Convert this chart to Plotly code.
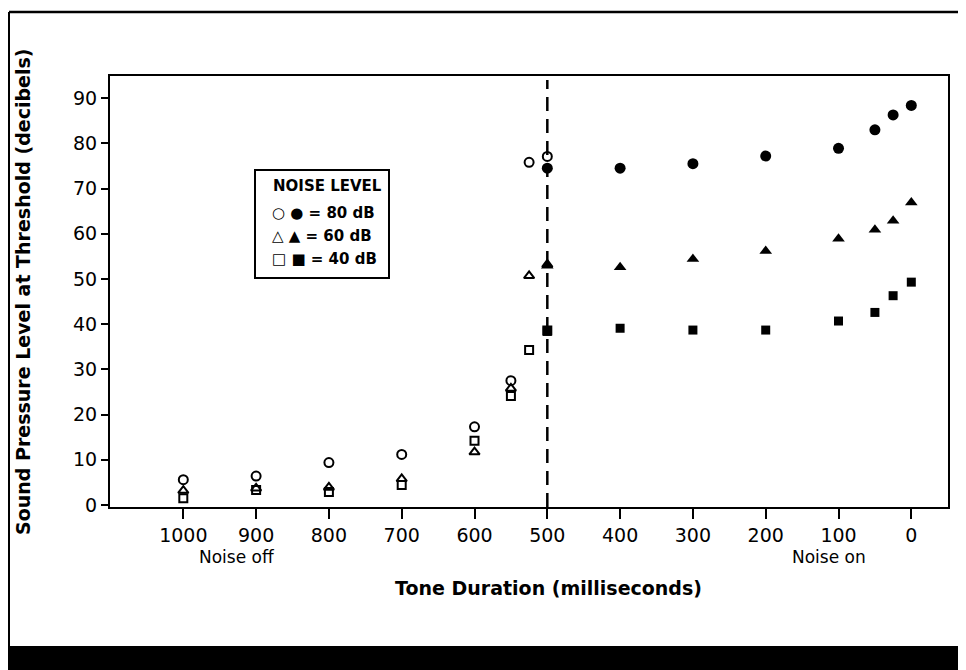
import plotly.graph_objects as go

# ---------------- data ----------------
off_dur = [1000, 900, 800, 700, 600, 550, 525, 500]
off_80 = [5.6, 6.4, 9.4, 11.2, 17.3, 27.5, 75.8, 77.1]
off_60 = [3.2, 3.7, 3.9, 5.8, 11.7, 25.8, 50.7, 53.2]
off_40 = [1.5, 3.3, 2.9, 4.4, 14.2, 24.1, 34.3, 38.6]

on_dur = [500, 400, 300, 200, 100, 50, 25, 0]
on_80 = [74.5, 74.5, 75.5, 77.2, 78.9, 83.0, 86.3, 88.4]
on_60 = [52.9, 52.6, 54.4, 56.2, 58.9, 60.9, 62.9, 66.9]
on_40 = [38.4, 39.1, 38.7, 38.7, 40.7, 42.6, 46.3, 49.3]

x_ticks = [1000, 900, 800, 700, 600, 500, 400, 300, 200, 100, 0]
y_ticks = [0, 10, 20, 30, 40, 50, 60, 70, 80, 90]

legend_title = "NOISE LEVEL"
legend_rows = ["○ ● = 80 dB", "△ ▲ = 60 dB", "□ ■ = 40 dB"]

# ---------------- layout geometry (page pixels) ----------------
PAGE_W, PAGE_H = 966, 670
OFF = 8  # default body margin of the html page
WIDTH, HEIGHT = PAGE_W - OFF, PAGE_H - OFF
L, R, T, B = 110, 948, 76, 507
PW, PH = R - L, B - T


def px(x):
    return (x - L) / PW


def py(y):
    return (B - y) / PH


NUM = "DejaVu Sans"

fig = go.Figure()

open_specs = [
    (off_80, "circle-open", 9),
    (off_60, "triangle-up-open", 9),
    (off_40, "square-open", 8),
]
for vals, sym, size in open_specs:
    fig.add_trace(go.Scatter(
        x=off_dur, y=vals, mode="markers",
        marker=dict(symbol=sym, size=size, color="black",
                    line=dict(color="black", width=2)),
        showlegend=False, hoverinfo="x+y"))

filled_specs = [
    (on_80, "circle", 11),
    (on_60, "triangle-up", 11),
    (on_40, "square", 9),
]
for vals, sym, size in filled_specs:
    fig.add_trace(go.Scatter(
        x=on_dur, y=vals, mode="markers",
        marker=dict(symbol=sym, size=size, color="black",
                    line=dict(color="black", width=0)),
        showlegend=False, hoverinfo="x+y"))

shapes = [
    # dashed boundary at 500 ms
    dict(type="line", xref="x", yref="paper", x0=500, x1=500, y0=0, y1=py(80),
         line=dict(color="black", width=2.5, dash="14px,8px")),
    # outer figure frame
    dict(type="line", xref="paper", yref="paper", x0=px(9), x1=px(966),
         y0=py(12), y1=py(12), line=dict(color="black", width=2.5)),
    dict(type="line", xref="paper", yref="paper", x0=px(9), x1=px(9),
         y0=py(12), y1=py(646), line=dict(color="black", width=2)),
    dict(type="rect", xref="paper", yref="paper", x0=px(0), x1=px(970),
         y0=py(646), y1=py(675), fillcolor="black", line=dict(width=0)),
    # legend box
    dict(type="rect", xref="paper", yref="paper", x0=px(255), x1=px(389),
         y0=py(170), y1=py(278), fillcolor="white",
         line=dict(color="black", width=2), layer="below"),
]

annotations = [
    dict(text="<b>Sound Pressure Level at Threshold (decibels)</b>",
         xref="paper", yref="paper", x=px(23), y=py(292), textangle=-90,
         showarrow=False, font=dict(family=NUM, size=19, color="black"),
         xanchor="center", yanchor="middle"),
    dict(text="<b>Tone Duration (milliseconds)</b>",
         xref="paper", yref="paper", x=px(548), y=py(588),
         showarrow=False, font=dict(family=NUM, size=19, color="black"),
         xanchor="center", yanchor="middle"),
    dict(text="Noise off", xref="paper", yref="paper", x=px(237), y=py(557),
         showarrow=False, font=dict(family=NUM, size=17, color="black"),
         xanchor="center", yanchor="middle"),
    dict(text="Noise on", xref="paper", yref="paper", x=px(829), y=py(557),
         showarrow=False, font=dict(family=NUM, size=17, color="black"),
         xanchor="center", yanchor="middle"),
    dict(text="<b>" + legend_title + "</b>", xref="paper", yref="paper",
         x=px(327), y=py(186), showarrow=False,
         font=dict(family=NUM, size=15, color="black"),
         xanchor="center", yanchor="middle"),
]
row_y = [213, 236, 259]
for text, yy in zip(legend_rows, row_y):
    annotations.append(dict(
        text="<b>" + text + "</b>", xref="paper", yref="paper",
        x=px(270), y=py(yy), showarrow=False,
        font=dict(family=NUM, size=15, color="black"),
        xanchor="left", yanchor="middle"))

fig.update_layout(
    width=WIDTH, height=HEIGHT,
    margin=dict(l=L - OFF, r=PAGE_W - R, t=T - OFF, b=PAGE_H - B, pad=0),
    paper_bgcolor="white", plot_bgcolor="white",
    shapes=shapes, annotations=annotations,
    showlegend=False,
    xaxis=dict(range=[1100.7, -50.4], tickmode="array", tickvals=x_ticks,
               ticktext=[str(v) for v in x_ticks],
               ticks="outside", ticklen=10, tickwidth=2, tickcolor="black",
               showline=True, linecolor="black", linewidth=2, mirror=True,
               showgrid=False, zeroline=False,
               tickfont=dict(family=NUM, size=19, color="black")),
    yaxis=dict(range=[-0.44, 94.9], tickmode="array", tickvals=y_ticks,
               ticktext=[str(v) for v in y_ticks],
               ticks="outside", ticklen=7, tickwidth=2, tickcolor="black",
               showline=True, linecolor="black", linewidth=2, mirror=True,
               showgrid=False, zeroline=False,
               tickfont=dict(family=NUM, size=19, color="black")),
)

fig.write_html("out.html")
